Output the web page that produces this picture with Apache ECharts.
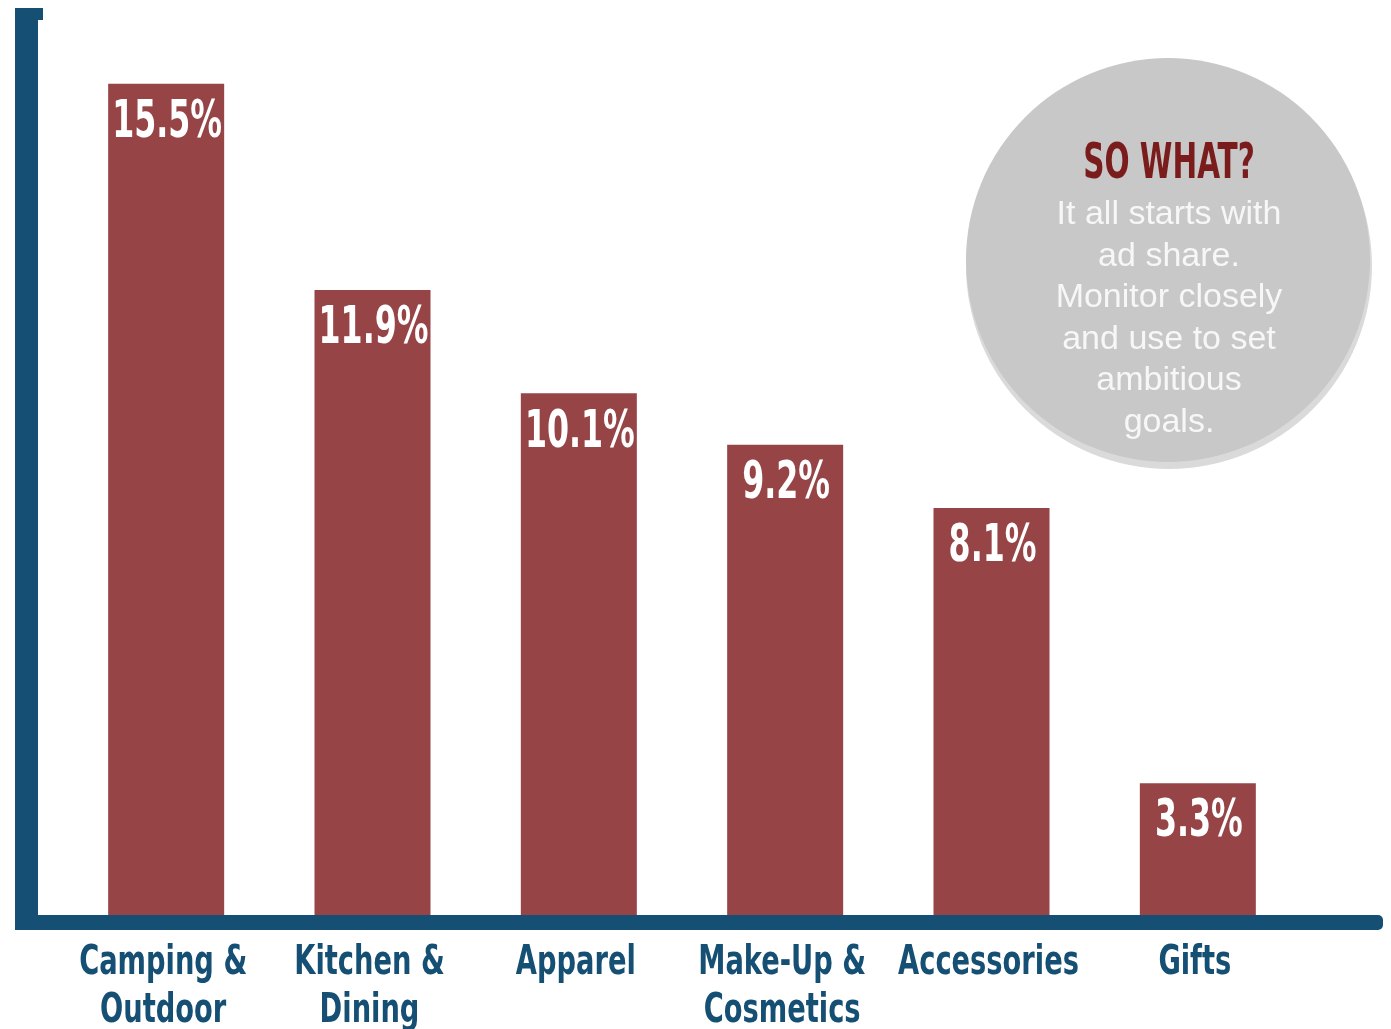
<!DOCTYPE html>
<html>
<head>
<meta charset="utf-8">
<script src="https://cdn.jsdelivr.net/npm/echarts@6/dist/echarts.min.js"></script>
<style>
  html, body { margin: 0; padding: 0; background: #ffffff; }
  #chart { width: 1391px; height: 1029px; }
</style>
</head>
<body>
<div id="chart"></div>
<script>
const categories = ['Camping &\nOutdoor', 'Kitchen &\nDining', 'Apparel', 'Make-Up &\nCosmetics', 'Accessories', 'Gifts'];
const shareValues = [15.5, 11.9, 10.1, 9.2, 8.1, 3.3];
const calloutTitle = 'SO WHAT?';
const calloutLines = ['It all starts with', 'ad share.', 'Monitor closely', 'and use to set', 'ambitious', 'goals.'];

const NARROW = '"DejaVu Sans Condensed", "Liberation Sans Narrow", sans-serif';
const AXIS_BLUE = '#154f73';
const BAR_RED = '#964446';

const chart = echarts.init(document.getElementById('chart'));

const staticGraphic = [
  { type: 'rect', z: 10, shape: { x: 15, y: 8, width: 23, height: 922 }, style: { fill: AXIS_BLUE } },
  { type: 'rect', z: 10, shape: { x: 37, y: 8, width: 6, height: 12 }, style: { fill: AXIS_BLUE } },
  { type: 'rect', z: 10, shape: { x: 15, y: 915, width: 1368, height: 15, r: [0, 5, 5, 0] }, style: { fill: AXIS_BLUE } },
  { type: 'circle', z: 5, shape: { cx: 1169, cy: 266, r: 203 }, style: { fill: '#dadada' } },
  { type: 'circle', z: 6, shape: { cx: 1168, cy: 260, r: 202 }, style: { fill: '#c8c8c8' } },
  { type: 'text', z: 7, x: 1169, y: 165, scaleX: 0.67, style: {
      x: 0, y: 0, text: calloutTitle, textAlign: 'center', textVerticalAlign: 'middle',
      fill: '#7a1c1c', fontFamily: NARROW, fontWeight: 'bold', fontSize: 49
  } },
  { type: 'text', z: 7, style: {
      x: 1169, y: 194, text: calloutLines.join('\n'), textAlign: 'center', textVerticalAlign: 'top',
      fill: '#f7f7f7', fontFamily: '"Liberation Sans", Arial, sans-serif', fontSize: 34, lineHeight: 41.5
  } }
];

chart.setOption({
  backgroundColor: '#ffffff',
  animation: false,
  grid: { left: 63, right: 90, top: 55, bottom: 114, containLabel: false },
  xAxis: {
    type: 'category',
    data: categories,
    axisLine: { show: false },
    axisTick: { show: false },
    axisLabel: { show: false }
  },
  yAxis: {
    type: 'value',
    min: 1,
    max: 16,
    show: false,
    splitLine: { show: false }
  },
  series: [{
    type: 'bar',
    data: shareValues,
    barWidth: 116,
    itemStyle: { color: BAR_RED },
    label: { show: false },
    z: 2
  }],
  graphic: staticGraphic
});

// Condensed text labels placed through the library's own scales
const labelGraphic = [];
categories.forEach((cat, i) => {
  const top = chart.convertToPixel({ gridIndex: 0 }, [i, shareValues[i]]);
  const base = chart.convertToPixel({ gridIndex: 0 }, [i, 1]);
  labelGraphic.push({
    type: 'text', z: 12, x: top[0] + 1, y: top[1] + 40, scaleX: 0.69,
    style: {
      x: 0, y: 0, text: shareValues[i].toFixed(1) + '%', textAlign: 'center', textVerticalAlign: 'middle',
      fill: '#ffffff', fontFamily: NARROW, fontWeight: 'bold', fontSize: 51
    }
  });
  labelGraphic.push({
    type: 'text', z: 12, x: base[0] - 3, y: base[1] + 24, scaleX: 0.74,
    style: {
      x: 0, y: 0, text: cat, textAlign: 'center', textVerticalAlign: 'top',
      fill: AXIS_BLUE, fontFamily: NARROW, fontWeight: 'bold', fontSize: 41, lineHeight: 48
    }
  });
});

chart.setOption({ graphic: staticGraphic.concat(labelGraphic) });
</script>
</body>
</html>
